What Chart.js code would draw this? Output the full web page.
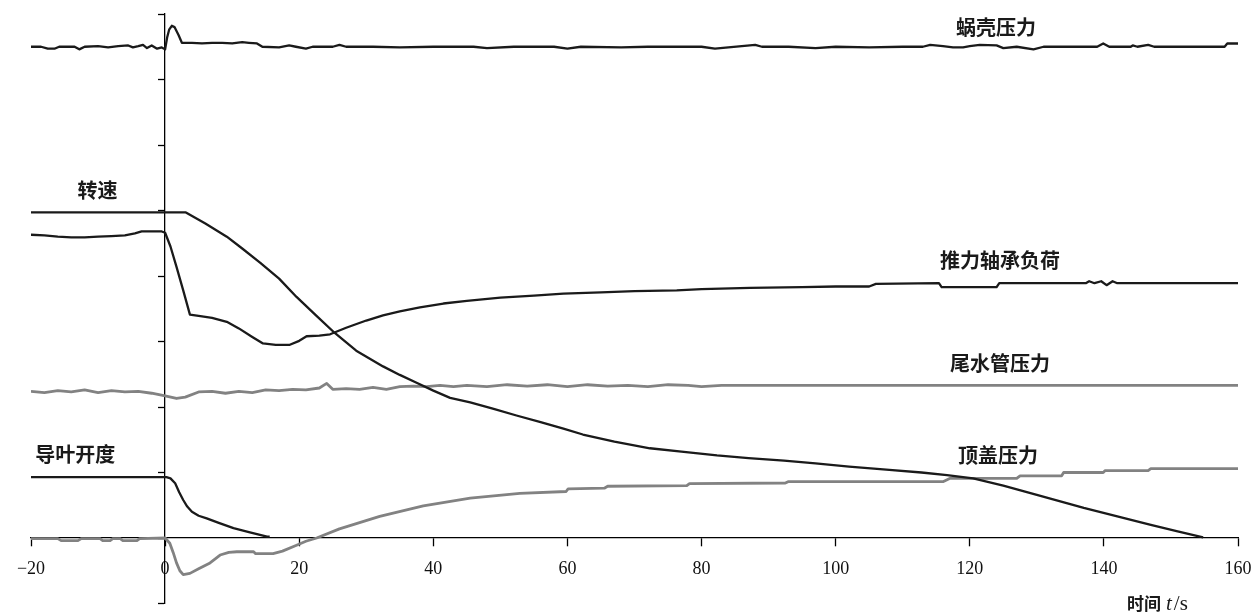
<!DOCTYPE html>
<html>
<head>
<meta charset="utf-8">
<script src="https://cdn.jsdelivr.net/npm/chart.js@4.4.0/dist/chart.umd.min.js"></script>
<style>
html,body{margin:0;padding:0;background:#fff;}
#wrap{width:1253px;height:615px;position:relative;}
</style>
</head>
<body>
<div id="wrap"><canvas id="c"></canvas></div>
<script>
// ---- data (time t in s, value in relative units) ----
const xTickValues = [-20, 0, 20, 40, 60, 80, 100, 120, 140, 160];
const seriesNames = ['蜗壳压力', '转速', '推力轴承负荷', '尾水管压力', '导叶开度', '顶盖压力'];

const spiralCasePressure = [
  [-20,7.50],[-18.5,7.50],[-17.5,7.47],[-16.5,7.47],[-15.8,7.50],[-13.5,7.50],[-12.8,7.46],[-12,7.50],
  [-10,7.51],[-8.5,7.49],[-7,7.51],[-5.5,7.52],[-4.8,7.49],[-4,7.51],[-3.3,7.53],[-2.7,7.48],[-2,7.52],
  [-1.2,7.47],[-0.5,7.49],[0,7.46],[0.3,7.64],[0.6,7.76],[1.0,7.82],[1.4,7.80],[2.0,7.68],[2.5,7.56],
  [4,7.56],[5.5,7.55],[7,7.56],[8.5,7.56],[10,7.55],[11.5,7.57],[12.5,7.56],[13.7,7.55],[14.5,7.50],
  [17,7.49],[18.5,7.52],[19.5,7.50],[21,7.47],[22,7.50],[25,7.50],[26,7.53],[27,7.50],[31,7.50],
  [35,7.49],[40,7.50],[46,7.50],[48,7.48],[52,7.50],[58,7.50],[60,7.47],[62,7.50],[68,7.49],[72,7.50],
  [80,7.50],[82,7.47],[84,7.49],[88,7.53],[89,7.50],[93,7.50],[97,7.48],[100,7.50],[105,7.49],[110,7.50],
  [113,7.50],[114.1,7.53],[116,7.51],[117.5,7.49],[119,7.49],[120,7.51],[121.5,7.53],[124,7.52],[125,7.48],
  [127,7.50],[129.5,7.46],[131,7.50],[139,7.50],[139.9,7.55],[140.8,7.50],[144,7.50],[144.3,7.52],[145,7.50],
  [146.6,7.53],[147.5,7.50],[158,7.50],[158.4,7.55],[160,7.55]
];

const rotationSpeed = [
  [-20,4.97],[3.1,4.97],[6,4.80],[9.2,4.60],[11.5,4.42],[14.2,4.20],[17,3.96],[19.6,3.68],[22.5,3.40],
  [25.3,3.13],[28.5,2.86],[32.5,2.62],[35,2.49],[37.5,2.37],[40,2.25],[42.5,2.14],[45.5,2.07],[49,1.97],
  [52.4,1.87],[56,1.77],[59.4,1.67],[62.3,1.58],[67,1.47],[72.3,1.37],[77,1.32],[82.3,1.26],[87,1.22],
  [92.3,1.18],[97,1.14],[102,1.09],[108,1.04],[112.8,1.00],[116.6,0.96],[120.5,0.91],[125,0.80],[130,0.66],
  [137,0.46],[142,0.33],[147,0.20],[151,0.10],[154.8,0.01]
];

const thrustBearingLoad = [
  [-20,4.63],[-18,4.62],[-16,4.60],[-14,4.59],[-12,4.59],[-10,4.60],[-8,4.61],[-6,4.62],[-4.5,4.65],
  [-3.5,4.68],[-2,4.68],[-0.5,4.68],[0,4.66],[0.8,4.45],[1.7,4.14],[2.7,3.78],[3.7,3.41],[5,3.39],
  [7,3.36],[9.2,3.30],[11,3.20],[13,3.07],[14.6,2.97],[16.5,2.95],[18.6,2.95],[20,3.01],[21.1,3.08],
  [23,3.09],[24.6,3.11],[27,3.21],[30,3.32],[32.5,3.40],[35,3.46],[38,3.52],[41.5,3.58],[45,3.62],
  [50,3.67],[55,3.70],[59.4,3.73],[65,3.75],[70,3.77],[76.3,3.78],[80,3.80],[87.2,3.82],[95,3.83],
  [100,3.84],[105,3.84],[106,3.88],[115.4,3.89],[115.8,3.83],[124,3.83],[124.4,3.89],[137.3,3.89],
  [137.8,3.92],[138.6,3.89],[139.6,3.92],[140.4,3.86],[141.3,3.92],[142,3.89],[160,3.89]
];

const draftTubePressure = [
  [-20,2.24],[-18,2.22],[-16,2.25],[-14,2.23],[-12,2.26],[-10,2.22],[-8,2.25],[-6,2.23],[-4,2.24],
  [-2,2.21],[0,2.17],[1.7,2.13],[3,2.15],[5,2.23],[7,2.24],[9,2.21],[11,2.24],[13,2.22],[15,2.26],
  [17,2.25],[19,2.27],[21,2.26],[23,2.29],[24.1,2.36],[25,2.27],[27,2.28],[29,2.27],[31,2.30],[33,2.27],
  [35,2.31],[37,2.32],[39,2.31],[41,2.33],[43,2.31],[45,2.33],[48,2.31],[51,2.34],[54,2.32],[57,2.34],
  [60,2.31],[63,2.34],[66,2.32],[69,2.33],[72,2.31],[75,2.34],[78,2.33],[80,2.31],[83,2.33],[160,2.33]
];

const guideVaneOpening = [
  [-20,0.93],[0.2,0.93],[0.8,0.91],[1.5,0.835],[2.1,0.70],[2.7,0.58],[3.3,0.48],[4.0,0.40],[5,0.34],
  [6.2,0.30],[8,0.23],[10.2,0.15],[12.5,0.09],[15.2,0.02],[15.6,0.02]
];

const headCoverPressure = [
  [-20,-0.01],[-16,-0.01],[-15.5,-0.04],[-13,-0.04],[-12.5,-0.01],[-9.7,-0.01],[-9.3,-0.04],[-8.2,-0.04],
  [-7.8,-0.01],[-6.7,-0.01],[-6.3,-0.04],[-4.2,-0.04],[-3.8,-0.01],[0,0],[0.7,-0.08],[1.2,-0.22],
  [1.7,-0.38],[2.2,-0.50],[2.7,-0.56],[3.7,-0.54],[5,-0.47],[6.7,-0.38],[8.2,-0.26],[9.5,-0.22],
  [10.7,-0.21],[13.2,-0.21],[13.5,-0.24],[16.1,-0.24],[17.5,-0.20],[19.6,-0.11],[21,-0.05],[22.6,0.0],
  [26,0.14],[32,0.33],[38.5,0.49],[45.5,0.61],[52.9,0.68],[59.8,0.71],[60.1,0.75],[65.5,0.76],[66,0.79],
  [77.8,0.80],[78.2,0.83],[92.5,0.84],[92.9,0.86],[116,0.86],[117,0.91],[127,0.91],
  [127.5,0.95],[133.7,0.95],[134,1.00],[139.9,1.00],[140.2,1.03],[146.6,1.03],[147,1.06],[160,1.06]
];

// ---- label anchors (data coordinates) ----
const labelAnchors = [
  {text: seriesNames[0], t: 123.9, v: 7.79},
  {text: seriesNames[1], t: -10.1, v: 5.30},
  {text: seriesNames[2], t: 124.5, v: 4.24},
  {text: seriesNames[3], t: 124.5, v: 2.66},
  {text: seriesNames[4], t: -13.4, v: 1.27},
  {text: seriesNames[5], t: 124.2, v: 1.26}
];

const BLACK = '#1a1a1a';
const GREY = '#828282';

function toXY(arr){ return arr.map(p => ({x: p[0], y: p[1]})); }
function ds(label, arr, color, width){
  return {label, data: toXY(arr), borderColor: color, borderWidth: width,
          pointRadius: 0, tension: 0, fill: false, borderJoinStyle: 'round', borderCapStyle: 'butt'};
}

const labelPlugin = {
  id: 'seriesLabels',
  afterDraw(chart){
    const {ctx, scales} = chart;
    const xs = scales.x, ys = scales.y;
    ctx.save();
    ctx.fillStyle = '#1a1a1a';
    ctx.textAlign = 'center';
    ctx.textBaseline = 'middle';
    ctx.font = 'bold 20px "Noto Sans CJK SC"';
    labelAnchors.forEach(l => ctx.fillText(l.text, xs.getPixelForValue(l.t), ys.getPixelForValue(l.v)));
    // axis title: 时间 t/s
    const ax = xs.getPixelForValue(160) - 111;
    const ay = ys.getPixelForValue(0) + 66;
    ctx.textAlign = 'left';
    ctx.font = 'bold 17px "Noto Sans CJK SC"';
    ctx.fillText('时间', ax, ay);
    let w = ctx.measureText('时间').width + 5;
    ctx.font = 'italic 21px "Liberation Serif"';
    ctx.fillText('t', ax + w, ay);
    w += ctx.measureText('t').width + 2;
    ctx.font = '21px "Liberation Serif"';
    ctx.fillText('/s', ax + w, ay);
    ctx.restore();
  }
};

new Chart(document.getElementById('c'), {
  type: 'line',
  data: {
    datasets: [
      ds(seriesNames[0], spiralCasePressure, BLACK, 2.3),
      ds(seriesNames[1], rotationSpeed, BLACK, 2.3),
      ds(seriesNames[2], thrustBearingLoad, BLACK, 2.3),
      ds(seriesNames[3], draftTubePressure, GREY, 2.8),
      ds(seriesNames[4], guideVaneOpening, BLACK, 2.3),
      ds(seriesNames[5], headCoverPressure, GREY, 2.8)
    ]
  },
  options: {
    responsive: true,
    maintainAspectRatio: false,
    animation: false,
    layout: {padding: {left: 31, right: 15, top: 14, bottom: 11.5}},
    plugins: {legend: {display: false}, tooltip: {enabled: false}},
    scales: {
      x: {
        type: 'linear', min: -20, max: 160,
        position: {y: 0},
        afterBuildTicks: (scale) => { scale.ticks = xTickValues.map(v => ({value: v})); },
        afterFit: (scale) => { scale.paddingLeft = 0; scale.paddingRight = 0; },
        ticks: {
          color: '#111', padding: 12,
          font: {family: '"Liberation Serif"', size: 18},
          callback: (v) => v < 0 ? '\u2212' + Math.abs(v) : String(v)
        },
        grid: {drawOnChartArea: false, drawTicks: true, tickLength: 8, tickColor: '#000', tickWidth: 1.3},
        border: {display: true, color: '#000', width: 1.3}
      },
      y: {
        type: 'linear', min: -1, max: 8,
        position: {x: 0},
        afterFit: (scale) => { scale.paddingTop = 0; scale.paddingBottom = 0; },
        ticks: {display: false, stepSize: 1},
        grid: {drawOnChartArea: false, drawTicks: true, tickLength: 6, tickColor: '#000', tickWidth: 1.3},
        border: {display: true, color: '#000', width: 1.3}
      }
    }
  },
  plugins: [labelPlugin]
});
</script>
</body>
</html>
